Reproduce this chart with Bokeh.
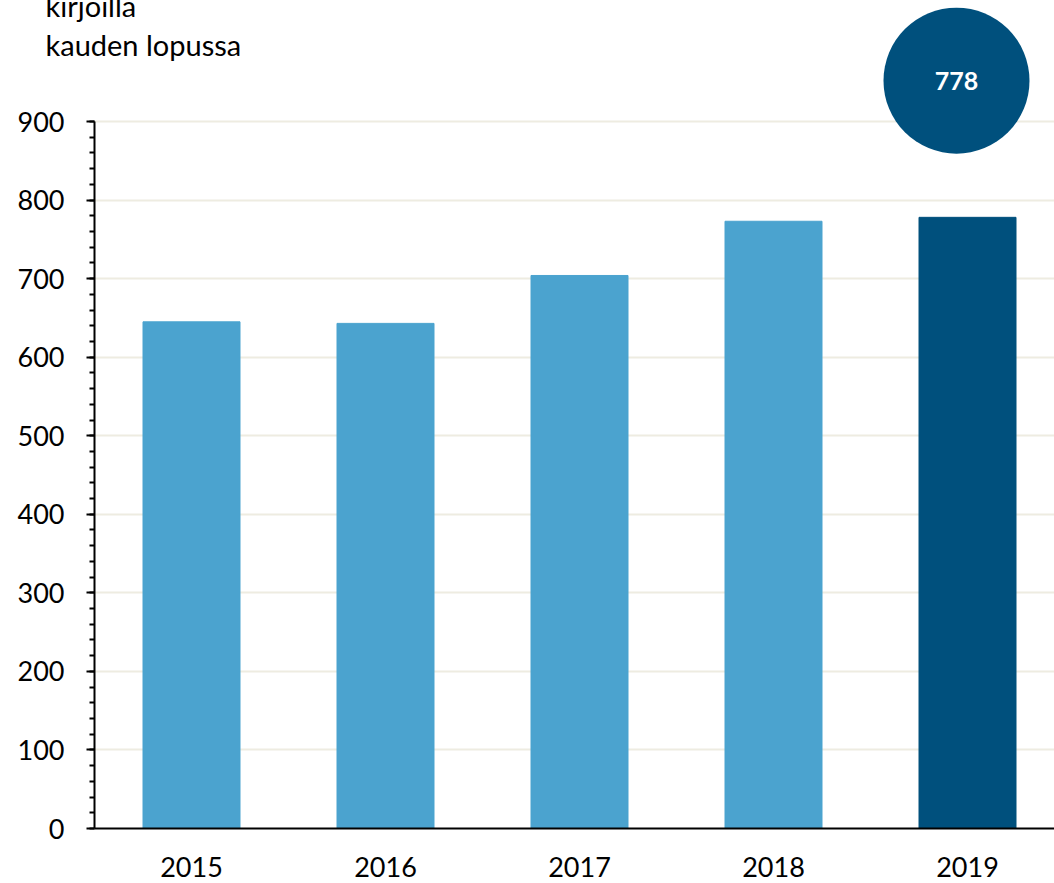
from bokeh.plotting import figure
from bokeh.models import Range1d, FixedTicker, ColumnDataSource
from bokeh.core.properties import value
from bokeh.embed import file_html
from bokeh.resources import INLINE

# ---- data ----
years = [2015, 2016, 2017, 2018, 2019]
year_labels = ["2015", "2016", "2017", "2018", "2019"]
members = [645, 643, 704, 773, 778]
y_ticks = [0, 100, 200, 300, 400, 500, 600, 700, 800, 900]
title_lines = ["kirjoilla", "kauden lopussa"]

LIGHT = "#4BA3CF"
DARK = "#00507D"
GRID = "#EEECE1"
FONT = "Lato"

bar_colors = [LIGHT] * (len(years) - 1) + [DARK]
src = ColumnDataSource(dict(x=years, top=members, color=bar_colors))

W, H = 1054, 883
left = 94
bottom = 55
frame_h = H - bottom          # frame bottom at y=828
px_per_unit = 707.0 / 900.0
y_end = frame_h / px_per_unit
band = 194.0
frame_w = W - left
x_start = years[0] - 0.5
x_end = x_start + frame_w / band

p = figure(width=W, height=H, output_backend="svg", toolbar_location=None,
           x_range=Range1d(x_start, x_end), y_range=Range1d(0, y_end),
           min_border_left=left, min_border_right=0, min_border_top=0,
           min_border_bottom=bottom)
p.outline_line_color = None
p.background_fill_color = "white"
p.border_fill_color = "white"

p.vbar(x="x", top="top", width=0.5, color="color", source=src)

# y axis
p.yaxis.ticker = FixedTicker(ticks=y_ticks, minor_ticks=list(range(0, 901, 20)))
p.yaxis.bounds = (0, 900)
p.yaxis.axis_line_color = "black"
p.yaxis.axis_line_width = 2
p.yaxis.major_tick_line_color = "black"
p.yaxis.major_tick_line_width = 2
p.yaxis.major_tick_out = 8
p.yaxis.major_tick_in = 0
p.yaxis.minor_tick_line_color = "black"
p.yaxis.minor_tick_line_width = 2
p.yaxis.minor_tick_out = 5
p.yaxis.minor_tick_in = 0
p.yaxis.major_label_text_font = FONT
p.yaxis.major_label_text_font_size = "27px"
p.yaxis.major_label_text_color = "black"
p.yaxis.major_label_standoff = 22

# x axis
p.xaxis.ticker = FixedTicker(ticks=years)
p.xaxis.major_label_overrides = {y: l for y, l in zip(years, year_labels)}
p.xaxis.axis_line_color = "black"
p.xaxis.axis_line_width = 2
p.xaxis.major_tick_line_color = None
p.xaxis.minor_tick_line_color = None
p.xaxis.major_tick_out = 0
p.xaxis.major_tick_in = 0
p.xaxis.major_label_text_font = FONT
p.xaxis.major_label_text_font_size = "27px"
p.xaxis.major_label_text_color = "black"
p.xaxis.major_label_standoff = 28

# grid
p.xgrid.grid_line_color = None
p.ygrid.grid_line_color = GRID
p.ygrid.grid_line_width = 2
p.ygrid.ticker = FixedTicker(ticks=y_ticks)

# highlight bubble with latest value
cx = years[-1] - 11.0 / band
cy = 952
p.circle(x=[cx], y=[cy], radius=73, radius_units="screen",
         fill_color=DARK, line_color=None)
p.text(x=[cx], y=[cy], text=[str(members[-1])], text_align="center",
       text_baseline="middle", text_color="white",
       text_font=value(FONT), text_font_style="bold", text_font_size="25px")

# title lines (first one partially cut at the top, as in the original),
# drawn at overlay level so they may sit left of the plot frame
tx = x_start - (left - 45) / band
ty = [(frame_h - 5) / px_per_unit, (frame_h - 44) / px_per_unit]
p.text(x=[tx, tx], y=ty, text=title_lines, level="overlay",
       text_align="left", text_baseline="alphabetic", text_color="black",
       text_font=value(FONT), text_font_size="29px")

open("out.html", "w").write(file_html(p, INLINE))
